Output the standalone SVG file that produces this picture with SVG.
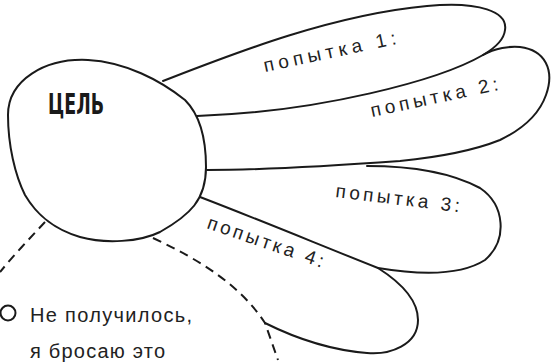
<svg xmlns="http://www.w3.org/2000/svg" width="553" height="362" viewBox="0 0 553 362">
<style>
.o{fill:none;stroke:#1a1a1a;stroke-width:2;stroke-linecap:round;stroke-linejoin:round}
.d{fill:none;stroke:#1a1a1a;stroke-width:2;stroke-dasharray:9 6}
.t{font-family:"Liberation Sans","DejaVu Sans",sans-serif;font-size:19px;fill:#222}
.b{font-family:"Liberation Sans","DejaVu Sans",sans-serif;font-size:20px;fill:#222}
.h{font-family:"DejaVu Sans Condensed","Liberation Sans",sans-serif;font-weight:bold;font-size:28px;fill:#1a1a1a}
</style>
<rect width="553" height="362" fill="#fff"/>
<g id="connectors">
<path class="d" d="M 45 222 C 30 238, 14 255, 0 272"/>
<path class="d" d="M 153 238 C 200 260, 240 285, 265 323 L 278 360"/>
</g>
<g id="attempt3">
<path class="o" d="M 367 166 C 410 166, 450 172, 480 188 C 505 205, 508 240, 485 260 C 460 276, 420 275, 378 268"/>
<text class="t" transform="translate(335,197) rotate(7)" textLength="125" lengthAdjust="spacing">попытка 3:</text>
</g>
<g id="attempt2">
<path class="o" d="M 483 55 C 495 48, 510 46, 520 47 C 545 50, 555 70, 546 95 C 540 112, 525 128, 500 140 C 470 152, 430 158, 400 161 C 330 166, 270 170, 207 170"/>
<text class="t" transform="translate(372,117) rotate(-12)" textLength="130" lengthAdjust="spacing">попытка 2:</text>
</g>
<g id="attempt1">
<path class="o" d="M 163 81 C 230 55, 330 15, 427 6 C 480 1, 508 12, 505 30 C 504 40, 495 48, 483 55 C 440 80, 320 112, 197 116"/>
<text class="t" transform="translate(265,72) rotate(-12)" textLength="135" lengthAdjust="spacing">попытка 1:</text>
</g>
<g id="attempt4">
<path class="o" d="M 200 197 C 260 220, 320 245, 378 268 C 400 282, 418 300, 418 320 C 418 345, 390 355, 367 353 C 330 350, 295 338, 265 323"/>
<text class="t" transform="translate(206,228) rotate(19)" textLength="122" lengthAdjust="spacing">попытка 4:</text>
</g>
<g id="goal">
<path class="o" d="M 8 115 C 8 80, 45 58, 88 60 C 125 62, 160 80, 185 100 C 200 115, 206 140, 206 167 C 206 200, 190 215, 160 232 C 140 242, 105 244, 80 237 C 50 228, 35 212, 25 195 C 15 175, 8 145, 8 115 Z" style="fill:#fff"/>
<text class="h" x="48" y="114" textLength="56" lengthAdjust="spacingAndGlyphs">ЦЕЛЬ</text>
</g>
<g id="giveup">
<circle class="o" cx="8" cy="313" r="7.5"/>
<text class="b" x="30" y="322" textLength="162" lengthAdjust="spacing">Не получилось,</text>
<text class="b" x="30" y="358" textLength="135" lengthAdjust="spacing">я бросаю это</text>
</g>
</svg>
